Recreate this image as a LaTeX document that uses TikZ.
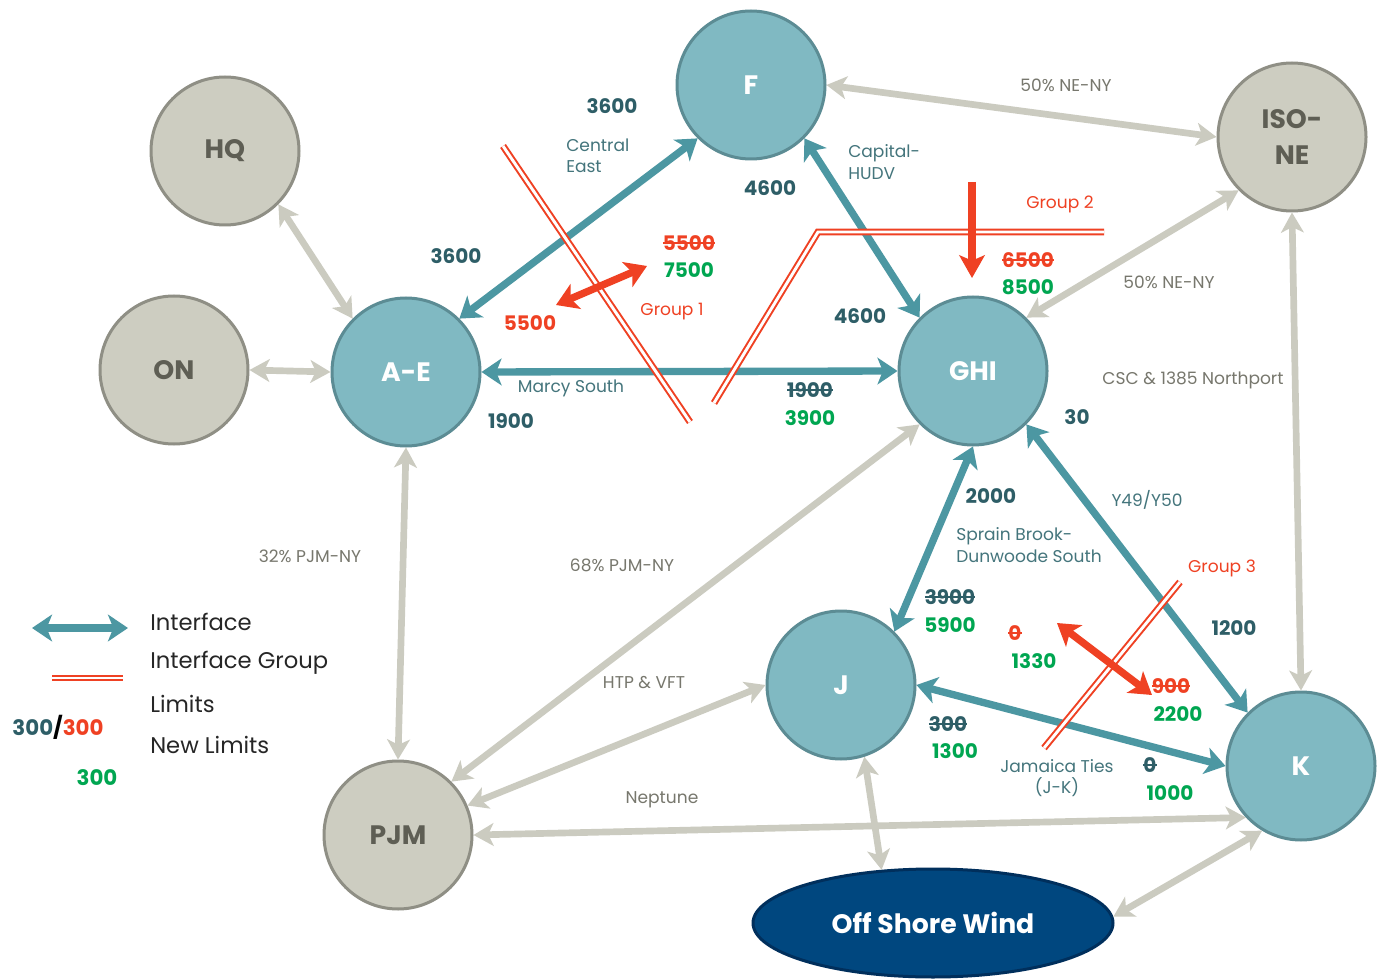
\documentclass[tikz,border=0pt]{standalone}
\usepackage{fontspec}
\setmainfont{Poppins}
\newcommand{\strk}[1]{\setbox0\hbox{#1}\rlap{\rule[0.33em]{\wd0}{1.2pt}}\box0}
\usetikzlibrary{arrows.meta,shapes.geometric}
\definecolor{tealfill}{HTML}{80B9C2}
\definecolor{tealedge}{HTML}{5C8C94}
\definecolor{tealarrow}{HTML}{4C97A2}
\definecolor{grayfill}{HTML}{CDCDC1}
\definecolor{grayedge}{HTML}{8F8F85}
\definecolor{grayarrow}{HTML}{CBCBC0}
\definecolor{darknum}{HTML}{2E5E67}
\definecolor{tealtext}{HTML}{44757C}
\definecolor{graytext}{HTML}{77776D}
\definecolor{nodegray}{HTML}{5E5E54}
\definecolor{redc}{HTML}{EF4123}
\definecolor{greenc}{HTML}{00A651}
\definecolor{navy}{HTML}{00477F}
\definecolor{navyedge}{HTML}{002F5C}
\tikzset{
  tnode/.style={circle, fill=tealfill, draw=tealedge, line width=2.25pt, minimum size=111pt, inner sep=0pt, text=white, font=\fontsize{20}{22}\selectfont\bfseries},
  gnode/.style={circle, fill=grayfill, draw=grayedge, line width=2.25pt, minimum size=111pt, inner sep=0pt, text=nodegray, font=\fontsize{20}{22}\selectfont\bfseries, align=center},
  tarr/.style={draw=tealarrow, line width=5.5pt, arrows={Stealth[length=15pt,width=20pt,inset=4pt]-Stealth[length=15pt,width=20pt,inset=4pt]}},
  garr/.style={draw=grayarrow, line width=5pt, arrows={Stealth[length=15pt,width=17pt,inset=4pt]-Stealth[length=15pt,width=17pt,inset=4pt]}},
  rarr/.style={draw=redc, line width=5.5pt, arrows={Stealth[length=16pt,width=20pt,inset=4pt]-Stealth[length=16pt,width=20pt,inset=4pt]}},
  rdown/.style={draw=redc, line width=6pt, arrows={-Stealth[length=17pt,width=19pt,inset=4pt]}},
  grp/.style={draw=redc, double=white, line width=1.5pt, double distance=2.2pt},
  num/.style={font=\fontsize{15}{18}\selectfont\bfseries, text=darknum, inner sep=0pt},
  rnum/.style={num, text=redc},
  gnum/.style={num, text=greenc},
  tlab/.style={font=\fontsize{12.8}{16}\selectfont, text=tealtext, inner sep=0pt, align=left},
  glab/.style={font=\fontsize{12.8}{16}\selectfont, text=graytext, inner sep=0pt},
  rlab/.style={font=\fontsize{12.8}{16}\selectfont, text=redc, inner sep=0pt},
  leg/.style={font=\fontsize{17}{20}\selectfont, text=black!85, inner sep=0pt, anchor=west},
}
\begin{document}
\begin{tikzpicture}[x=0.75pt,y=-0.75pt]
\useasboundingbox[fill=white] (0,0) rectangle (1385,980);

% nodes
\node[tnode] (F) at (751,85) {F};
\node[gnode] (HQ) at (225,151) {HQ};
\node[gnode] (ON) at (174,370) {ON};
\node[tnode] (AE) at (406,372) {A-E};
\node[tnode] (GHI) at (973,371) {GHI};
\node[gnode, font=\fontsize{20}{27}\selectfont\bfseries] (ISO) at (1292,137) {ISO-\\NE};
\node[tnode] (J) at (841,685) {J};
\node[tnode] (K) at (1301,766) {K};
\node[gnode] (PJM) at (398,835) {PJM};
\node[ellipse, fill=navy, draw=navyedge, line width=2.25pt, minimum width=270pt, minimum height=81pt, inner sep=0pt, text=white, font=\fontsize{20}{22}\selectfont\bfseries] (OSW) at (933,923) {Off Shore Wind};

% gray connectors
\draw[garr] (HQ.-45) -- (AE.135);
\draw[garr] (ON.0) -- (AE.180);
\draw[garr] (F.0) -- (ISO.180);
\draw[garr] (GHI.45) -- (ISO.225);
\draw[garr] (ISO.-90) -- (K.90);
\draw[garr] (AE.-90) -- (PJM.90);
\draw[garr] (GHI.225) -- (PJM.45);
\draw[garr] (J.180) -- (PJM.23);
\draw[garr] (PJM.0) -- (K.223);
\draw[garr] (J.-72) -- (OSW.134);
\draw[garr] (K.239) -- (OSW.2);

% teal connectors
\draw[tarr] (AE.45) -- (F.225);
\draw[tarr] (F.-45) -- (GHI.135);
\draw[tarr] (AE.0) -- (GHI.180);
\draw[tarr] (GHI.-90) -- (J.45);
\draw[tarr] (GHI.-45) -- (K.135);
\draw[tarr] (J.0) -- (K.180);

% interface groups
\draw[grp] (503,146) -- (690,422);
\draw[grp] (714,403) -- (818,232) -- (1104,232);
\draw[grp] (1044,748) -- (1180,582);

% red arrows
\coordinate (g1a) at (556,305);
\coordinate (g1b) at (647,266);
\draw[rarr] (g1a) -- (g1b);
\coordinate (g2a) at (972,182);
\coordinate (g2b) at (972,278);
\draw[rdown] (g2a) -- (g2b);
\coordinate (g3a) at (1057,623);
\coordinate (g3b) at (1152,695);
\draw[rarr] (g3a) -- (g3b);

% labels
\node[num] (l1) at (612,106) {3600};
\node[tlab, anchor=west] (l2) at (566,156) {Central\\East};
\node[num] (l3) at (770,188) {4600};
\node[tlab, anchor=west] (l4) at (848,162) {Capital-\\HUDV};
\node[num] (l5) at (456,256) {3600};
\node[rnum] (l6) at (689,243) {\strk{5500}};
\node[gnum] (l7) at (689,270) {7500};
\node[rnum] (l8) at (530,323) {5500};
\node[rlab] (l9) at (672,312) {Group 1};
\node[num] (l10) at (860,316) {4600};
\node[tlab] (l11) at (571,388) {Marcy South};
\node[num] (l12) at (511,421) {1900};
\node[num] (l13) at (810,390) {\strk{1900}};
\node[gnum] (l14) at (810,418) {3900};
\node[rlab] (l15) at (1060,204) {Group 2};
\node[rnum] (l16) at (1028,260) {\strk{6500}};
\node[gnum] (l17) at (1028,287) {8500};
\node[glab] (l18) at (1066,85) {50\% NE-NY};
\node[glab] (l19) at (1169,282) {50\% NE-NY};
\node[glab] (l20) at (1193,380) {CSC \& 1385 Northport};
\node[num] (l21) at (1077,417) {30};
\node[num] (l22) at (991,496) {2000};
\node[tlab] (l23) at (1147,500) {Y49/Y50};
\node[tlab, anchor=west] (l24) at (956,545) {Sprain Brook-\\Dunwoode South};
\node[rlab] (l25) at (1222,568) {Group 3};
\node[num] (l26) at (950,597) {\strk{3900}};
\node[gnum] (l27) at (950,625) {5900};
\node[num] (l28) at (1234,628) {1200};
\node[rnum] (l29) at (1015,633) {\strk{0}};
\node[gnum] (l30) at (1034,661) {1330};
\node[rnum] (l31) at (1171,686) {\strk{900}};
\node[gnum] (l32) at (1178,714) {2200};
\node[num] (l33) at (948,724) {\strk{300}};
\node[gnum] (l34) at (955,751) {1300};
\node[tlab, align=center] (l35) at (1057,778) {Jamaica Ties\\(J-K)};
\node[num] (l36) at (1150,765) {\strk{0}};
\node[gnum] (l37) at (1170,793) {1000};
\node[glab] (l38) at (310,556) {32\% PJM-NY};
\node[glab] (l39) at (622,565) {68\% PJM-NY};
\node[glab] (l40) at (644,683) {HTP \& VFT};
\node[glab] (l41) at (662,800) {Neptune};

% legend
\coordinate (la) at (32,628);
\coordinate (lb) at (128,628);
\draw[tarr] (la) -- (lb);
\node[leg] (t1) at (150,622) {Interface};
\coordinate (lc) at (52,678);
\coordinate (ld) at (123,678);
\draw[grp] (lc) -- (ld);
\node[leg] (t2) at (150,663) {Interface Group};
\node[leg] (t3) at (150,704) {Limits};
\node[num, font=\fontsize{16}{19}\selectfont\bfseries] (t4) at (58,727) {300\textcolor{black}{/}\textcolor{redc}{300}};
\node[leg] (t5) at (150,745) {New Limits};
\node[gnum, font=\fontsize{16}{19}\selectfont\bfseries] (t6) at (97,778) {300};
\end{tikzpicture}
\end{document}
